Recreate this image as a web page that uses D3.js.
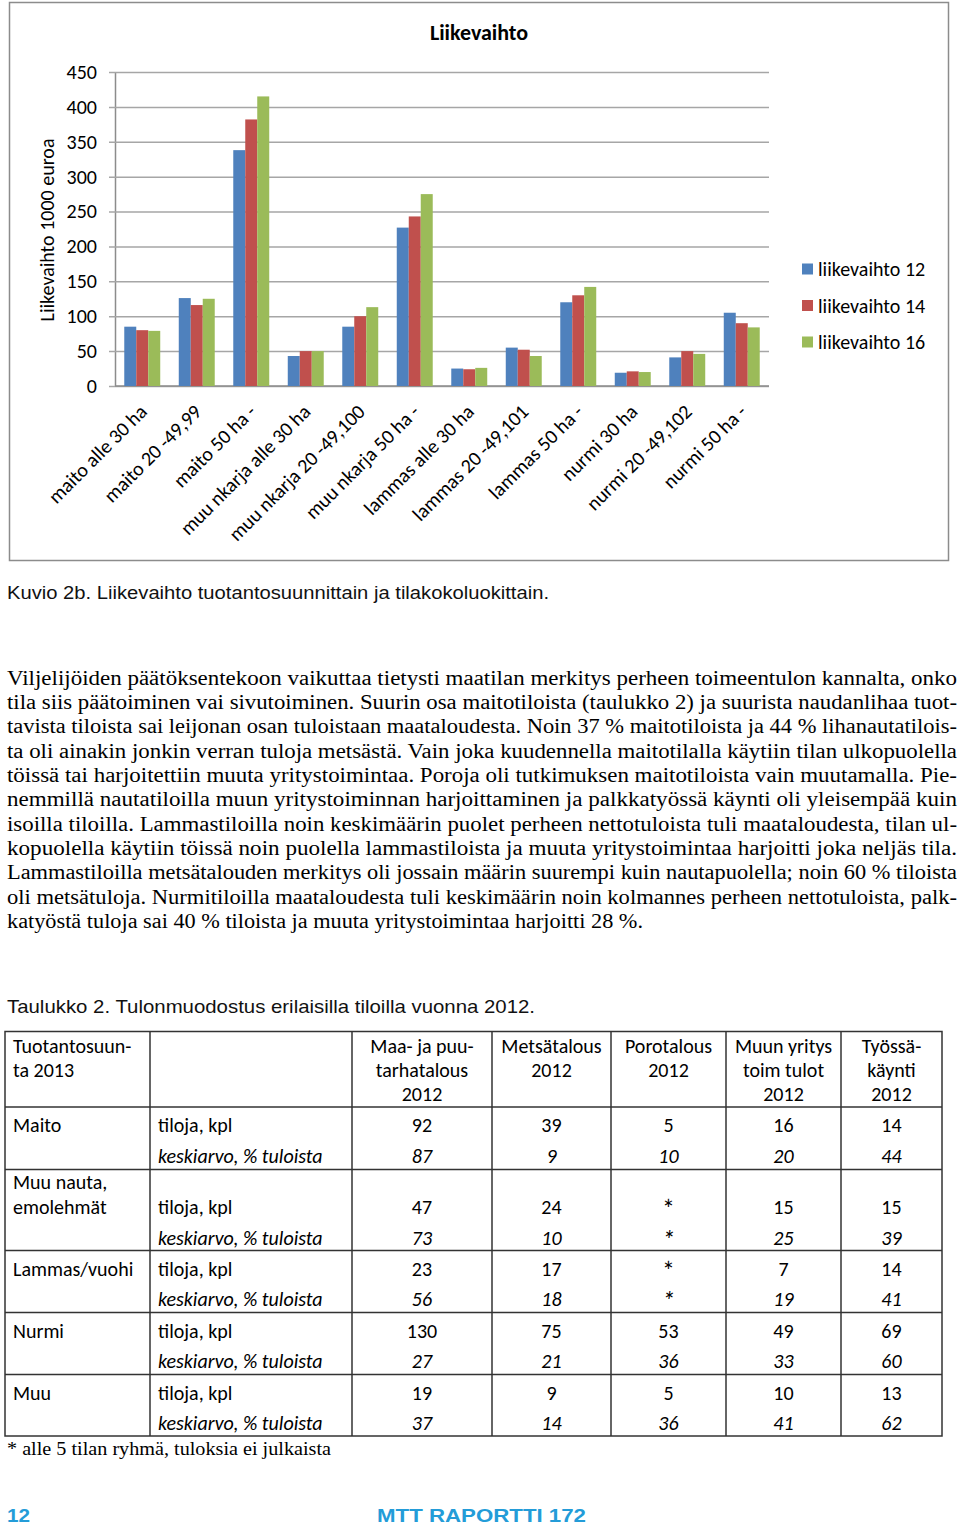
<!DOCTYPE html>
<html><head><meta charset="utf-8">
<script src="https://cdn.jsdelivr.net/npm/d3@7"></script>
<style>body{margin:0;background:#fff} svg{display:block}</style>
</head><body><svg id="page" width="960" height="1526"></svg>
<script>
// ---------- DATA ----------
const chartTitle = "Liikevaihto";
const yAxisTitle = "Liikevaihto 1000 euroa";
const categories = ["maito alle 30 ha","maito 20 -49,99","maito 50 ha -","muu nkarja alle 30 ha","muu nkarja 20 -49,100","muu nkarja 50 ha -","lammas alle 30 ha","lammas 20 -49,101","lammas 50 ha -","nurmi 30 ha","nurmi 20 -49,102","nurmi 50 ha -"];
const seriesNames = ["liikevaihto 12","liikevaihto 14","liikevaihto 16"];
const liikevaihto12 = [85,126,338,43,85,227,25,55,120,19,41,105];
const liikevaihto14 = [80,116,382,50,100,243,24,52,130,21,50,90];
const liikevaihto16 = [79,125,415,50,113,275,26,43,142,20,46,84];
const yTicks = [0,50,100,150,200,250,300,350,400,450];
const seriesColors = ["#4F81BD","#C0504D","#9BBB59"];

const figureCaption = "Kuvio 2b. Liikevaihto tuotantosuunnittain ja tilakokoluokittain.";
const paragraphLines = [
"Viljelijöiden päätöksentekoon vaikuttaa tietysti maatilan merkitys perheen toimeentulon kannalta, onko",
"tila siis päätoiminen vai sivutoiminen. Suurin osa maitotiloista (taulukko 2) ja suurista naudanlihaa tuot-",
"tavista tiloista sai leijonan osan tuloistaan maataloudesta. Noin 37 % maitotiloista ja 44 % lihanautatilois-",
"ta oli ainakin jonkin verran tuloja metsästä. Vain joka kuudennella maitotilalla käytiin tilan ulkopuolella",
"töissä tai harjoitettiin muuta yritystoimintaa. Poroja oli tutkimuksen maitotiloista vain muutamalla. Pie-",
"nemmillä nautatiloilla muun yritystoiminnan harjoittaminen ja palkkatyössä käynti oli yleisempää kuin",
"isoilla tiloilla. Lammastiloilla noin keskimäärin puolet perheen nettotuloista tuli maataloudesta, tilan ul-",
"kopuolella käytiin töissä noin puolella lammastiloista ja muuta yritystoimintaa harjoitti joka neljäs tila.",
"Lammastiloilla metsätalouden merkitys oli jossain määrin suurempi kuin nautapuolella; noin 60 % tiloista",
"oli metsätuloja. Nurmitiloilla maataloudesta tuli keskimäärin noin kolmannes perheen nettotuloista, palk-",
"katyöstä tuloja sai 40 % tiloista ja muuta yritystoimintaa harjoitti 28 %."
];
const tableCaption = "Taulukko 2. Tulonmuodostus erilaisilla tiloilla vuonna 2012.";
const tableHeaders = [["Tuotantosuun-","ta 2013"],[],["Maa- ja puu-","tarhatalous","2012"],["Metsätalous","2012"],["Porotalous","2012"],["Muun yritys","toim tulot","2012"],["Työssä-","käynti","2012"]];
const tableGroups = [["Maito"],["Muu nauta,","emolehmät"],["Lammas/vuohi"],["Nurmi"],["Muu"]];
const rowLabels = ["tiloja, kpl","keskiarvo, % tuloista"];
const tilojaKpl = [["92","39","5","16","14"],["47","24","*","15","15"],["23","17","*","7","14"],["130","75","53","49","69"],["19","9","5","10","13"]];
const keskiarvoPct = [["87","9","10","20","44"],["73","10","*","25","39"],["56","18","*","19","41"],["27","21","36","33","60"],["37","14","36","41","62"]];
const footnote = "* alle 5 tilan ryhmä, tuloksia ei julkaista";
const pageNumber = "12";
const footerTitle = "MTT RAPORTTI 172";

// ---------- DRAW ----------
const svg = d3.select("#page");
const SANS = "Carlito, Lato, sans-serif";
const SERIF = "'Liberation Serif', 'DejaVu Serif', serif";
const ARIAL = "'Liberation Sans', Arial, sans-serif";
const CF = 20; // chart font size

// chart frame
svg.append("rect").attr("x",9.5).attr("y",2.5).attr("width",939).attr("height",558)
  .attr("fill","#fff").attr("stroke","#8c8c8c").attr("stroke-width",1.5);

const plot = {left:115, right:769, top:72, bottom:386};
const x0 = d3.scaleBand().domain(categories).range([plot.left, plot.right]).paddingInner(0.34).paddingOuter(0.17);
const x1 = d3.scaleBand().domain(seriesNames).range([0, x0.bandwidth()]);
const y = d3.scaleLinear().domain([0,450]).range([plot.bottom, plot.top]);

// gridlines + y axis
const yAxis = d3.axisLeft(y).tickValues(yTicks).tickSize(-(plot.right-plot.left)).tickPadding(12).tickSizeOuter(0);
const yg = svg.append("g").attr("transform",`translate(${plot.left},0)`).call(yAxis);
yg.select(".domain").attr("stroke","#8c8c8c").attr("stroke-width",1.5);
yg.selectAll(".tick line").attr("stroke","#a6a6a6").attr("stroke-width",1.5).attr("x1",-6);
yg.selectAll(".tick text").attr("font-family",SANS).attr("font-size",CF).attr("fill","#000").attr("x",-18);

// x axis baseline
svg.append("line").attr("x1",plot.left).attr("x2",plot.right).attr("y1",y(0)).attr("y2",y(0))
  .attr("stroke","#8c8c8c").attr("stroke-width",1.5);

// bars
const seriesData = [liikevaihto12, liikevaihto14, liikevaihto16];
const groups = svg.append("g").selectAll("g").data(categories).join("g")
  .attr("transform", d => `translate(${x0(d)},0)`);
groups.selectAll("rect").data((d,i) => seriesNames.map((s,j)=>({s, v: seriesData[j][i], c: seriesColors[j]})))
  .join("rect")
  .attr("x", d => x1(d.s)).attr("width", x1.bandwidth())
  .attr("y", d => y(d.v)).attr("height", d => y(0)-y(d.v))
  .attr("fill", d => d.c);

// x labels
svg.append("g").selectAll("text").data(categories).join("text")
  .attr("transform", d => `translate(${x0(d)+x0.bandwidth()/2+6},${413}) rotate(-45)`)
  .attr("text-anchor","end").attr("font-family",SANS).attr("font-size",CF).attr("fill","#000")
  .text(d => d);

// title
svg.append("text").attr("x",479).attr("y",40).attr("text-anchor","middle")
  .attr("font-family",SANS).attr("font-weight","bold").attr("font-size",22).text(chartTitle);

// y axis title
svg.append("text").attr("transform","translate(54,230) rotate(-90)").attr("text-anchor","middle")
  .attr("font-family",SANS).attr("font-size",CF).text(yAxisTitle);

// legend
const lg = svg.append("g").selectAll("g").data(seriesNames).join("g")
  .attr("transform",(d,i)=>`translate(802,${269 + i*36.5})`);
lg.append("rect").attr("x",0).attr("y",-5.5).attr("width",11).attr("height",11).attr("fill",(d,i)=>seriesColors[i]);
lg.append("text").attr("x",16).attr("y",7).attr("font-family",SANS).attr("font-size",CF).text(d=>d);

// figure caption
svg.append("text").attr("x",7).attr("y",599).attr("font-family",ARIAL).attr("font-size",17.5)
  .attr("textLength",542).attr("lengthAdjust","spacingAndGlyphs").attr("fill","#111").text(figureCaption);

// paragraph (justified by horizontal fit)
const pFont = 20.5;
const pX = 7, pW = 950;
paragraphLines.forEach((line,i) => {
  const yy = 684.5 + i*24.35;
  const last = i === paragraphLines.length-1;
  svg.append("text").attr("x",pX).attr("y",yy).attr("font-family",SERIF).attr("font-size",pFont).attr("fill","#000")
    .attr("textLength", last ? 636 : pW).attr("lengthAdjust","spacingAndGlyphs").text(line);
});

// table caption
svg.append("text").attr("x",7).attr("y",1013).attr("font-family",ARIAL).attr("font-size",18.5)
  .attr("textLength",528).attr("lengthAdjust","spacingAndGlyphs").attr("fill","#111").text(tableCaption);

// table
const colX = [5,150,352,492,611,726,841,942];
const rowY = [1031.5,1107,1169.5,1250.5,1312.5,1374.5,1436];
const tg = svg.append("g");
tg.append("rect").attr("x",colX[0]).attr("y",rowY[0]).attr("width",colX[7]-colX[0]).attr("height",rowY[6]-rowY[0])
  .attr("fill","none").attr("stroke","#333").attr("stroke-width",1.5);
colX.slice(1,-1).forEach(cx => tg.append("line").attr("x1",cx).attr("x2",cx).attr("y1",rowY[0]).attr("y2",rowY[6]).attr("stroke","#333").attr("stroke-width",1.5));
rowY.slice(1,-1).forEach(ry => tg.append("line").attr("x1",colX[0]).attr("x2",colX[7]).attr("y1",ry).attr("y2",ry).attr("stroke","#333").attr("stroke-width",1.5));
const TF = 20;
tableHeaders.forEach((lines,c) => {
  lines.forEach((ln,k) => {
    const t = tg.append("text").attr("y",rowY[0]+21+k*24.4).attr("font-family",SANS).attr("font-size",TF).text(ln);
    if (c===0) t.attr("x",colX[0]+8); else t.attr("x",(colX[c]+colX[c+1])/2).attr("text-anchor","middle");
  });
});
function cellVal(sel, v){
  if (v === "*") sel.attr("font-size",TF+6).attr("dy",4);
  sel.text(v);
}
tableGroups.forEach((g,r) => {
  const top = rowY[r+1];
  const yT = top + 25 + (g.length-1)*19.5;
  const yK = yT + 30.5;
  g.forEach((ln,k) => tg.append("text").attr("x",colX[0]+8).attr("y",yT-(g.length-1-k)*25).attr("font-family",SANS).attr("font-size",TF).text(ln));
  tg.append("text").attr("x",colX[1]+8).attr("y",yT).attr("font-family",SANS).attr("font-size",TF).text(rowLabels[0]);
  tg.append("text").attr("x",colX[1]+8).attr("y",yK).attr("font-family",SANS).attr("font-size",TF).attr("font-style","italic").text(rowLabels[1]);
  tilojaKpl[r].forEach((v,c) => cellVal(tg.append("text").attr("x",(colX[c+2]+colX[c+3])/2).attr("y",yT).attr("text-anchor","middle").attr("font-family",SANS).attr("font-size",TF), v));
  keskiarvoPct[r].forEach((v,c) => cellVal(tg.append("text").attr("x",(colX[c+2]+colX[c+3])/2).attr("y",yK).attr("text-anchor","middle").attr("font-family",SANS).attr("font-size",TF).attr("font-style","italic"), v));
});

// footnote
svg.append("text").attr("x",7).attr("y",1455).attr("font-family",SERIF).attr("font-size",18)
  .attr("textLength",324).attr("lengthAdjust","spacingAndGlyphs").text(footnote);

// footer
svg.append("text").attr("x",7).attr("y",1522).attr("font-family",ARIAL).attr("font-weight","bold").attr("font-size",19)
  .attr("fill","#239cd8").attr("textLength",23).attr("lengthAdjust","spacingAndGlyphs").text(pageNumber);
svg.append("text").attr("x",377).attr("y",1522).attr("font-family",ARIAL).attr("font-weight","bold").attr("font-size",18)
  .attr("fill","#239cd8").attr("textLength",209).attr("lengthAdjust","spacingAndGlyphs").text(footerTitle);
</script></body></html>
